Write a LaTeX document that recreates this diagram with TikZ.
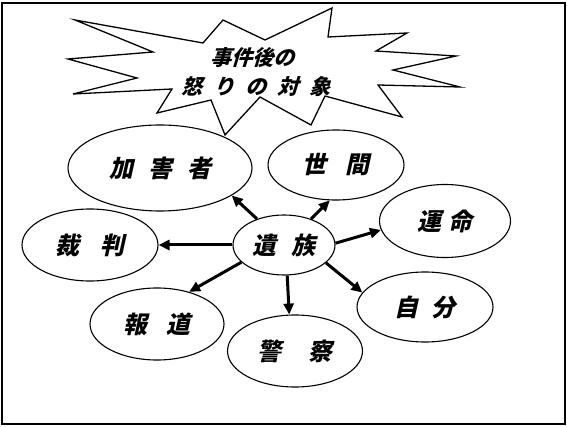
\documentclass[tikz,border=0pt]{standalone}
\usepackage{fontspec}
\newfontfamily\jpb[FakeSlant=0.22,BoldFeatures={FakeSlant=0.22}]{Noto Sans CJK JP}
\newfontfamily\jps[FakeSlant=0.3,BoldFeatures={FakeSlant=0.3}]{Noto Sans CJK JP}
\usetikzlibrary{shapes.geometric,arrows.meta}
\tikzset{
  oval/.style={ellipse, draw, line width=1.1pt, fill=white, inner sep=0pt,
    font=\jpb\bfseries\fontsize{24}{26}\selectfont},
  bigarrow/.style={line width=3pt, -{Triangle[length=11pt,width=10pt]}},
  starline/.style={line width=1.3pt, fill=white, line join=miter},
  startext/.style={font=\jps\bfseries\fontsize{21}{23}\selectfont, inner sep=0pt},
  frameline/.style={line width=1.6pt}
}
\begin{document}
\begin{tikzpicture}[x=1pt,y=-1pt]
\useasboundingbox (0,0) rectangle (567,427);
\fill[white] (0,0) rectangle (567,427);
\draw[frameline] (2,3) rectangle (565,424);
% starburst
\draw[starline] (223,20) -- (265,40) -- (332,8) -- (328,37) -- (407,33) -- (376,51)
  -- (456,56) -- (393,70) -- (460,87) -- (378,85) -- (402,117) -- (325,96)
  -- (311,125) -- (260,97) -- (225,135) -- (211,100) -- (157,113) -- (172,89)
  -- (73,94) -- (137,78) -- (68,59) -- (153,52) -- (75,20) -- (203,43) -- cycle;
\node[startext] (t1) at (252,58) {事件後の};
\node[startext] (t2) at (256,87) {怒\hspace{11pt}り\hspace{11pt}の\hspace{11pt}対\hspace{11pt}象};
% ellipses
\node[oval, minimum width=184pt, minimum height=86pt] (kagai) at (160,168) {加\hspace{15pt}害\hspace{15pt}者};
\node[oval, minimum width=136pt, minimum height=70pt] (sekken) at (336,165) {世\hspace{19pt}間};
\node[oval, minimum width=131pt, minimum height=73pt] (unmei) at (445,221) {運\hspace{7pt}命};
\node[oval, minimum width=102pt, minimum height=60pt] (izoku) at (284,245) {遺\hspace{16pt}族};
\node[oval, minimum width=136pt, minimum height=72pt] (saiban) at (90,245) {裁\hspace{22pt}判};
\node[oval, minimum width=134pt, minimum height=72pt] (houdou) at (157,324) {報\hspace{20pt}道};
\node[oval, minimum width=135pt, minimum height=72pt] (keisatsu) at (295,351) {警\hspace{28pt}察};
\node[oval, minimum width=136pt, minimum height=70pt] (jibun) at (425,307) {自\hspace{14pt}分};
% arrows
\draw[bigarrow] (izoku.136) -- (kagai.-21);
\draw[bigarrow] (izoku.44) -- (sekken.-100);
\draw[bigarrow] (izoku.2) -- (unmei.-172);
\draw[bigarrow] (izoku.180) -- (saiban.0);
\draw[bigarrow] (izoku.-158) -- (houdou.45);
\draw[bigarrow] (izoku.-84) -- (keisatsu.99);
\draw[bigarrow] (izoku.-23) -- (jibun.167);
\end{tikzpicture}
\end{document}
